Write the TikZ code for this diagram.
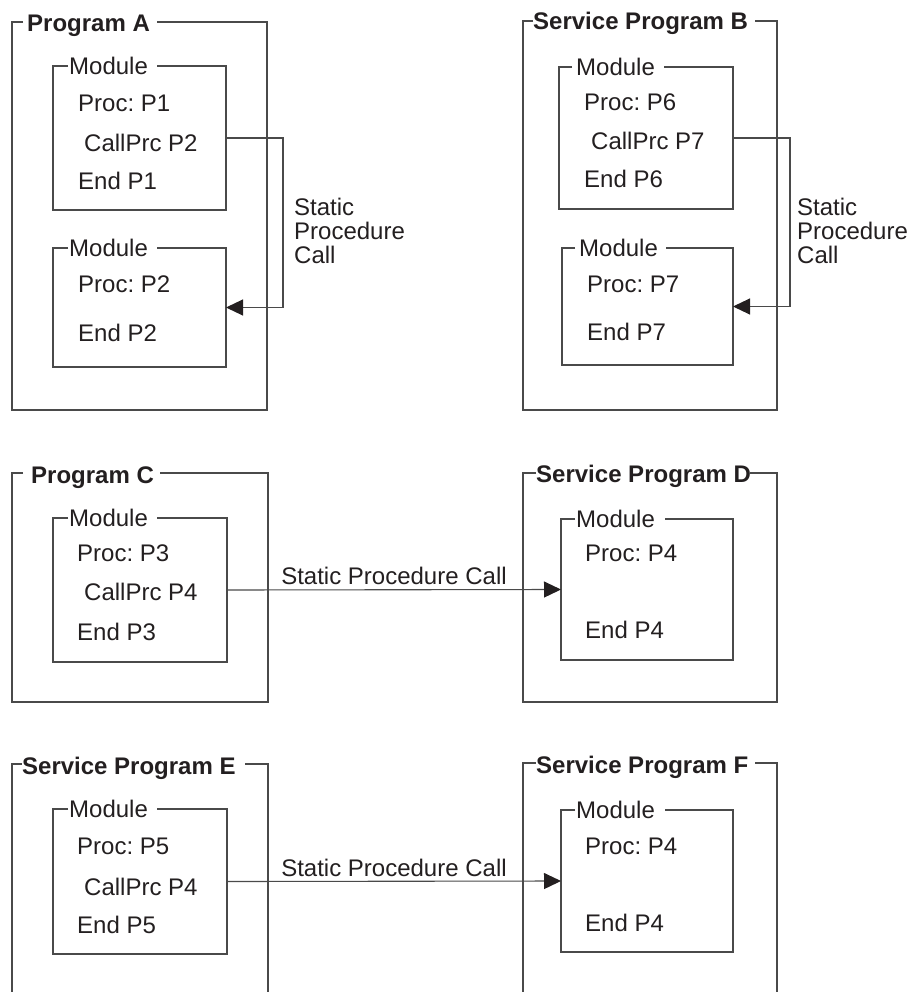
\documentclass[tikz,border=0pt]{standalone}
\usepackage{fontspec}
\setmainfont{Liberation Sans}
\usetikzlibrary{arrows.meta}
\definecolor{ln}{HTML}{4A4A4A}
\definecolor{tx}{HTML}{231F20}
\frenchspacing
\begin{document}
\frenchspacing
\begin{tikzpicture}[x=1pt,y=-1pt,
  frame/.style={draw=ln, line width=1.1pt},
  mod/.style={draw=none, inner sep=0, outer sep=0, anchor=north west},
  txt/.style={anchor=west, inner sep=0, text height=17.2pt, text depth=0pt, text=tx, font=\fontsize{24}{24}\selectfont},
  ttl/.style={txt, font=\fontsize{24}{24}\selectfont\bfseries},
  lbl/.style={anchor=north west, inner sep=0, align=left, text=tx, font=\fontsize{24}{24}\selectfont},
  clbl/.style={inner sep=0, text height=17.2pt, text depth=0pt, text=tx, font=\fontsize{24}{24}\selectfont},
  arr/.style={draw=ln, line width=1.1pt, -{Triangle[length=17pt,width=16pt,color=tx]}}]

\useasboundingbox (0,0) rectangle (911,992);

% ---------------- Program A ----------------
\draw[frame] (23,22) -- (12,22) -- (12,410) -- (267,410) -- (267,22) -- (157,22);
\node[ttl] (tA) at (27,23) {Program A};
\node[mod, minimum width=173, minimum height=144] (mA1) at (53,66) {};
\draw[frame] (68,66) -- (mA1.north west) -- (mA1.south west) -- (mA1.south east) -- (mA1.north east) -- (157,66);
\node[txt] (mA1t) at (69,66) {Module};
\node[txt] (a1) at (78,103) {Proc: P1};
\node[txt] (a2) at (84,143) {CallPrc P2};
\node[txt] (a3) at (78,181) {End P1};
\node[mod, minimum width=173, minimum height=119] (mA2) at (53,248) {};
\draw[frame] (68,248) -- (mA2.north west) -- (mA2.south west) -- (mA2.south east) -- (mA2.north east) -- (157,248);
\node[txt] (mA2t) at (69,248) {Module};
\node[txt] (a4) at (78,284) {Proc: P2};
\node[txt] (a5) at (78,333) {End P2};
\draw[arr] (mA1.east) -- ++(57,0) coordinate (cA) |- (mA2.east);
\node[lbl] (lA) at (294,198) {Static\\Procedure\\Call};

% ---------------- Service Program B ----------------
\draw[frame] (533,21) -- (523,21) -- (523,410) -- (777,410) -- (777,21) -- (755,21);
\node[ttl] (tB) at (533,21) {Service Program B};
\node[mod, minimum width=174, minimum height=142] (mB1) at (559,67) {};
\draw[frame] (572,67) -- (mB1.north west) -- (mB1.south west) -- (mB1.south east) -- (mB1.north east) -- (664,67);
\node[txt] (mB1t) at (576,67) {Module};
\node[txt] (b1) at (584,102) {Proc: P6};
\node[txt] (b2) at (591,141) {CallPrc P7};
\node[txt] (b3) at (584,179) {End P6};
\node[mod, minimum width=171, minimum height=117] (mB2) at (562,248) {};
\draw[frame] (575,248) -- (mB2.north west) -- (mB2.south west) -- (mB2.south east) -- (mB2.north east) -- (666,248);
\node[txt] (mB2t) at (579,248) {Module};
\node[txt] (b4) at (587,284) {Proc: P7};
\node[txt] (b5) at (587,332) {End P7};
\draw[arr] (mB1.east) -- ++(57,0) coordinate (cB) |- (mB2.east);
\node[lbl] (lB) at (797,198) {Static\\Procedure\\Call};

% ---------------- Program C ----------------
\draw[frame] (23,473) -- (12,473) -- (12,702) -- (268,702) -- (268,473) -- (160,473);
\node[ttl] (tC) at (31,475) {Program C};
\node[mod, minimum width=174, minimum height=144] (mC) at (53,518) {};
\draw[frame] (68,518) -- (mC.north west) -- (mC.south west) -- (mC.south east) -- (mC.north east) -- (157,518);
\node[txt] (mCt) at (69,518) {Module};
\node[txt] (c1) at (77,553) {Proc: P3};
\node[txt] (c2) at (84,592) {CallPrc P4};
\node[txt] (c3) at (77,632) {End P3};

% ---------------- Service Program D ----------------
\draw[frame] (536,473) -- (523,473) -- (523,702) -- (777,702) -- (777,473) -- (750,473);
\node[ttl] (tD) at (536,474) {Service Program D};
\node[mod, minimum width=172, minimum height=141] (mD) at (561,519) {};
\draw[frame] (575,519) -- (mD.north west) -- (mD.south west) -- (mD.south east) -- (mD.north east) -- (665,519);
\node[txt] (mDt) at (576,519) {Module};
\node[txt] (d1) at (585,553) {Proc: P4};
\node[txt] (d2) at (585,630) {End P4};
\draw[arr] (mC.east) -- node[clbl, above=4.4pt] (lC) {Static Procedure Call} (mD.west);

% ---------------- Service Program E ----------------
\draw[frame] (12,993) -- (12,764) -- (22,764);
\draw[frame] (245,764) -- (268,764) -- (268,993);
\node[ttl] (tE) at (22,766) {Service Program E};
\node[mod, minimum width=174, minimum height=145] (mE) at (53,809) {};
\draw[frame] (68,809) -- (mE.north west) -- (mE.south west) -- (mE.south east) -- (mE.north east) -- (157,809);
\node[txt] (mEt) at (69,809) {Module};
\node[txt] (e1) at (77,846) {Proc: P5};
\node[txt] (e2) at (84,887) {CallPrc P4};
\node[txt] (e3) at (77,925) {End P5};

% ---------------- Service Program F ----------------
\draw[frame] (523,993) -- (523,763) -- (536,763);
\draw[frame] (755,763) -- (777,763) -- (777,993);
\node[ttl] (tF) at (536,765) {Service Program F};
\node[mod, minimum width=172, minimum height=142] (mF) at (561,810) {};
\draw[frame] (575,810) -- (mF.north west) -- (mF.south west) -- (mF.south east) -- (mF.north east) -- (665,810);
\node[txt] (mFt) at (576,810) {Module};
\node[txt] (f1) at (585,846) {Proc: P4};
\node[txt] (f2) at (585,923) {End P4};
\draw[arr] (mE.east) -- node[clbl, above=4.4pt] (lE) {Static Procedure Call} (mF.west);
\end{tikzpicture}
\end{document}
